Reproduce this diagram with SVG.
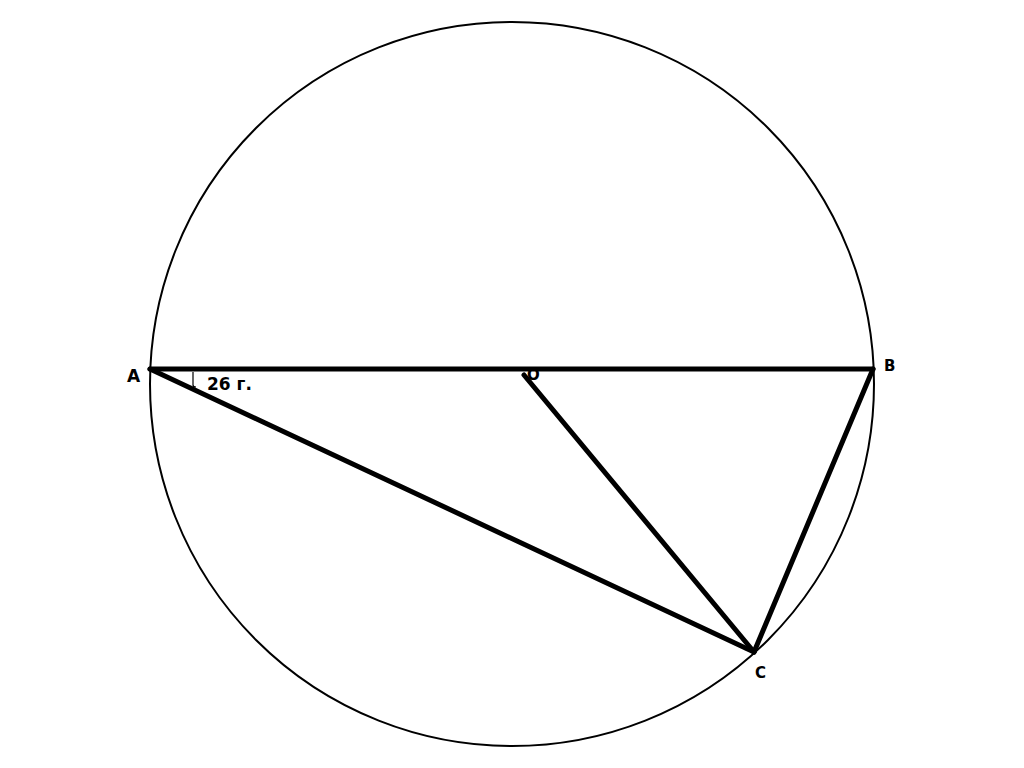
<svg xmlns="http://www.w3.org/2000/svg" width="1024" height="768" viewBox="0 0 1024 768">
<style>
.lbl{font-family:"DejaVu Sans","Liberation Sans",sans-serif;font-weight:bold;fill:#000}
.thick{stroke:#000;stroke-width:5;fill:none;stroke-linecap:round}
</style>
<rect width="1024" height="768" fill="#fff"/>
<g id="circle"><circle cx="512" cy="384" r="362" fill="none" stroke="#000" stroke-width="2"/></g>
<g id="labels">
<text id="label-A" class="lbl" x="127" y="382" font-size="17">A</text>
<text id="label-B" class="lbl" x="884" y="371" font-size="15">B</text>
<text id="label-C" class="lbl" x="755" y="678" font-size="15">C</text>
<text id="label-O" class="lbl" x="527" y="380" font-size="15">O</text>
<text id="label-angle" class="lbl" x="207" y="390" font-size="17">26 г.</text>
</g>
<g id="connectors">
<line class="thick" x1="150" y1="369" x2="873" y2="369"/>
<line class="thick" x1="150" y1="369" x2="754" y2="652"/>
<line class="thick" x1="524" y1="375" x2="754" y2="652"/>
<line class="thick" x1="873" y1="369" x2="754" y2="652"/>
<path d="M193 372 V385 Q193 387 196 387" fill="none" stroke="#000" stroke-width="1.2"/>
</g>
</svg>
